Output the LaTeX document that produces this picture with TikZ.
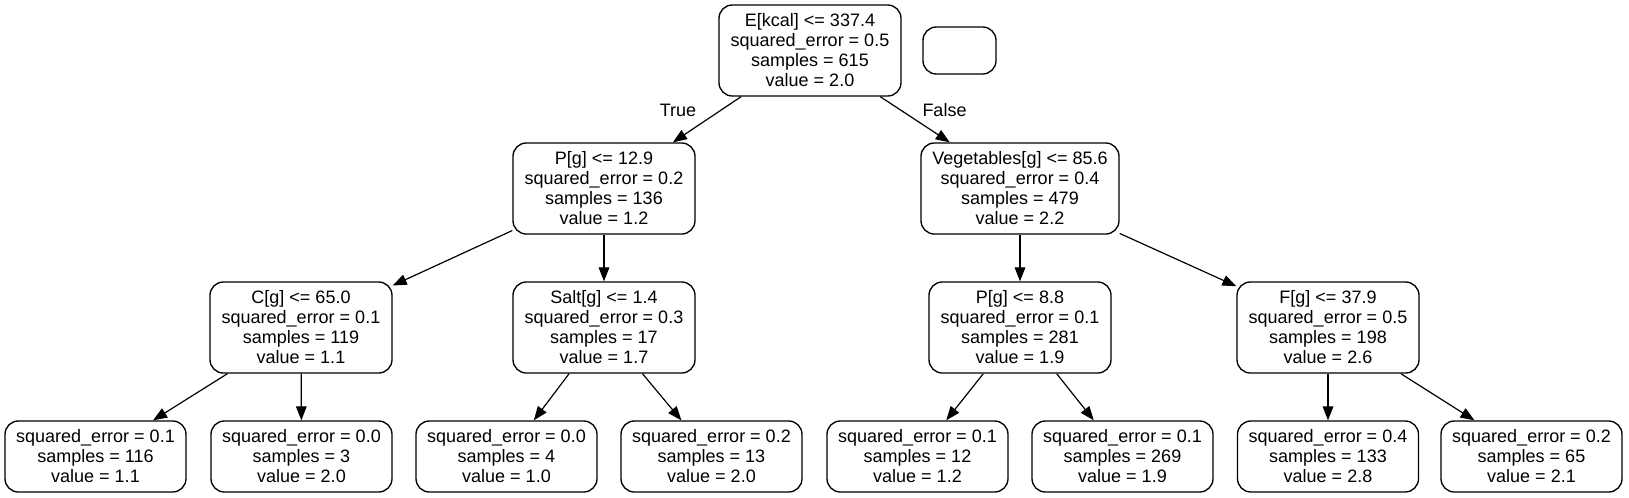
\documentclass[tikz,border=0pt]{standalone}
\usepackage{fontspec}
\setmainfont{Liberation Sans}
\usetikzlibrary{arrows.meta}
\begin{document}
\begin{tikzpicture}[x=0.75pt,y=-0.75pt,
  box/.style={draw=black,line width=1pt,rounded corners=10pt,inner sep=0pt,align=center,
    font=\fontsize{13.5pt}{15pt}\selectfont,minimum height=68.25pt},
  inner/.style={box,minimum width=136.5pt},
  leafbox/.style={box,minimum width=135.75pt,minimum height=53.25pt},
  edge/.style={draw=black,line width=0.9pt,-{Triangle[length=10.5pt,width=8pt]}},
  lbl/.style={font=\fontsize{13.5pt}{15pt}\selectfont,inner sep=0pt}]
\useasboundingbox (0,0) rectangle (1629,497);
\node[inner] (root) at (810,50.5) {E[kcal] <= 337.4\\squared\_error = 0.5\\samples = 615\\value = 2.0};
\node[box,minimum width=54.75pt,minimum height=35.25pt] (empty) at (959.5,50.5) {};
\node[inner] (p) at (604,188.5) {P[g] <= 12.9\\squared\_error = 0.2\\samples = 136\\value = 1.2};
\node[inner,minimum width=148.5pt] (veg) at (1020,188.5) {Vegetables[g] <= 85.6\\squared\_error = 0.4\\samples = 479\\value = 2.2};
\node[inner] (c) at (301,327.5) {C[g] <= 65.0\\squared\_error = 0.1\\samples = 119\\value = 1.1};
\node[inner] (salt) at (604,327.5) {Salt[g] <= 1.4\\squared\_error = 0.3\\samples = 17\\value = 1.7};
\node[inner] (p2) at (1020,327.5) {P[g] <= 8.8\\squared\_error = 0.1\\samples = 281\\value = 1.9};
\node[inner] (f) at (1328,327.5) {F[g] <= 37.9\\squared\_error = 0.5\\samples = 198\\value = 2.6};
\node[leafbox] (l1) at (95.5,456.5) {squared\_error = 0.1\\samples = 116\\value = 1.1};
\node[leafbox] (l2) at (301.5,456.5) {squared\_error = 0.0\\samples = 3\\value = 2.0};
\node[leafbox] (l3) at (506.5,456.5) {squared\_error = 0.0\\samples = 4\\value = 1.0};
\node[leafbox] (l4) at (711.5,456.5) {squared\_error = 0.2\\samples = 13\\value = 2.0};
\node[leafbox] (l5) at (917.5,456.5) {squared\_error = 0.1\\samples = 12\\value = 1.2};
\node[leafbox] (l6) at (1122.5,456.5) {squared\_error = 0.1\\samples = 269\\value = 1.9};
\node[leafbox] (l7) at (1328,456.5) {squared\_error = 0.4\\samples = 133\\value = 2.8};
\node[leafbox] (l8) at (1531.5,456.5) {squared\_error = 0.2\\samples = 65\\value = 2.1};
\path[edge] (root) -- (p);
\path[edge] (root) -- (veg);
\path[edge] (p) -- (c);
\path[edge] (p) -- (salt);
\path[edge] (veg) -- (p2);
\path[edge] (veg) -- (f);
\path[edge] (c) -- (l1);
\path[edge] (c) -- (l2);
\path[edge] (salt) -- (l3);
\path[edge] (salt) -- (l4);
\path[edge] (p2) -- (l5);
\path[edge] (p2) -- (l6);
\path[edge] (f) -- (l7);
\path[edge] (f) -- (l8);
\node[lbl] (true) at (678,110) {True};
\node[lbl] (false) at (944.5,110) {False};
\end{tikzpicture}
\end{document}
